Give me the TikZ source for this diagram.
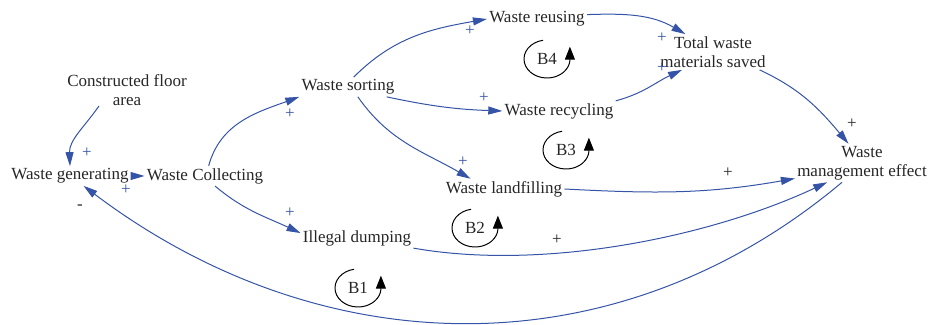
\documentclass[tikz,border=0pt]{standalone}
\usepackage{fontspec}
\setmainfont{Liberation Serif}
\usepackage{xcolor}
\usepackage{tikz}
\usetikzlibrary{arrows.meta}
\definecolor{linkblue}{RGB}{54,84,167}

\begin{document}
\begin{tikzpicture}[x=0.5pt,y=-0.5pt,font=\fontsize{8.5}{9.5}\selectfont]
	\tikzstyle{var}=[inner sep=1pt, align=center, text=black!85]
	\tikzstyle{sign}=[inner sep=0pt, text=linkblue]
	\tikzstyle{loopname}=[inner sep=0pt, text=black!85]
	\tikzset{edge/.style = {draw=linkblue, line width=0.5pt, -{Triangle[length=7pt,width=4pt]}}}
	\tikzset{loopmark/.style = {draw=black, line width=0.5pt, -{Triangle[length=6.5pt,width=5pt]}}}

	\useasboundingbox (0,0) rectangle (933,325);

	% variables
	\node[var](floor)    at (127,90)  {Constructed floor\\area};
	\node[var](gen)      at (70,176)  {Waste generating};
	\node[var](collect)  at (205,176) {Waste Collecting};
	\node[var](sort)     at (348,87)  {Waste sorting};
	\node[var](reuse)    at (537,19)  {Waste reusing};
	\node[var](recycle)  at (559,111) {Waste recycling};
	\node[var](landfill) at (504,189) {Waste landfilling};
	\node[var](dump)     at (357,238) {Illegal dumping};
	\node[var](total)    at (713,52)  {Total waste\\materials saved};
	\node[var](effect)   at (862,163) {Waste\\management effect};

	% links
	\draw[edge]([xshift=-14pt,yshift=1pt]floor.south) to[out=235,in=92] (gen.north);
	\draw[edge](gen)         --                 (collect);
	\draw[edge](collect.70)  to[out=75,in=200]  (sort.south west);
	\draw[edge](collect.315) to[out=-40,in=155] (dump.175);
	\draw[edge](sort.60)     to[out=45,in=190]  (reuse.west);
	\draw[edge]([xshift=-5pt]sort.south east) to[out=-12,in=178] (recycle.west);
	\draw[edge](sort.315)    to[out=-55,in=150] (landfill.163);
	\draw[edge](reuse.5)     to[out=2,in=150]   (total.147);
	\draw[edge](recycle.north east) to[out=15,in=205] (total.210);
	\draw[edge](total.339)   to[out=-25,in=130] (effect.125);
	\draw[edge](landfill.east) to[out=-3,in=190] (effect.193);
	\draw[edge](dump.south east) to[out=-10,in=205,looseness=0.8] (effect.209);
	\draw[edge](effect.224)  to[out=220,in=-37] (gen.324);

	% polarities
	\node[sign](s1)  at (87,153)  {+};
	\node[sign](s2)  at (126,190) {+};
	\node[sign](s3)  at (290,114) {+};
	\node[sign](s4)  at (290,213) {+};
	\node[sign](s5)  at (470,31)  {+};
	\node[sign](s6)  at (484,98)  {+};
	\node[sign](s7)  at (463,162) {+};
	\node[sign](s8)  at (662,38)  {+};
	\node[sign](s9)  at (662,68)  {+};
	\node[sign,text=black!85](s10) at (852,124) {+};
	\node[sign,text=black!85](s11) at (728,173) {+};
	\node[sign,text=black!85](s12) at (557,240) {+};
	\node[sign,text=black!85](s13) at (80,207)  {-};

	% loops
	\node[loopname](B1) at (358,288) {B1};
	\node[loopname](B2) at (475,228) {B2};
	\node[loopname](B3) at (566,150) {B3};
	\node[loopname](B4) at (547,59)  {B4};
	\draw[loopmark](B1.center) ++(100:11.5pt and 9.5pt) arc[start angle=100, end angle=355, x radius=11.5pt, y radius=9.5pt] -- ++(0,-14);
	\draw[loopmark](B2.center) ++(100:11.5pt and 9.5pt) arc[start angle=100, end angle=355, x radius=11.5pt, y radius=9.5pt] -- ++(0,-14);
	\draw[loopmark](B3.center) ++(100:11.5pt and 9.5pt) arc[start angle=100, end angle=355, x radius=11.5pt, y radius=9.5pt] -- ++(0,-14);
	\draw[loopmark](B4.center) ++(100:11.5pt and 9.5pt) arc[start angle=100, end angle=355, x radius=11.5pt, y radius=9.5pt] -- ++(0,-14);
\end{tikzpicture}
\end{document}
